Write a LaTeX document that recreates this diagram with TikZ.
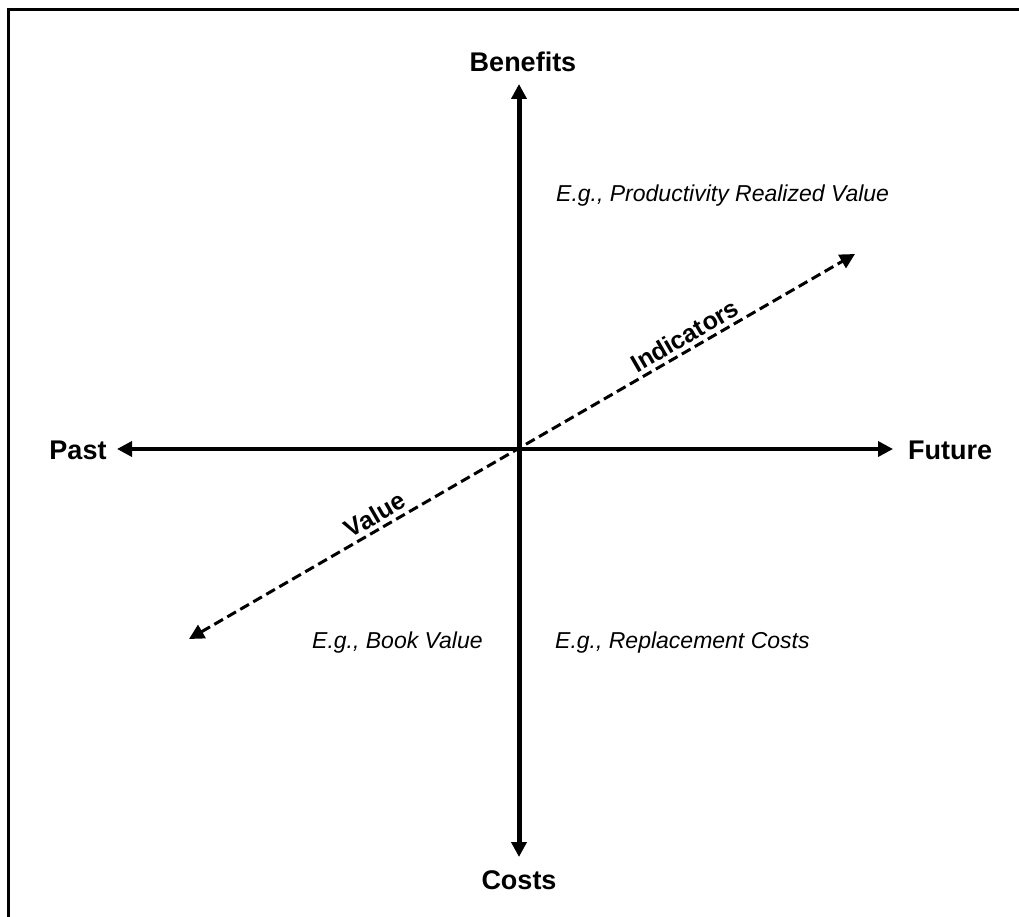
\documentclass[tikz,border=0pt]{standalone}
\usepackage{fontspec}
\setmainfont{Liberation Sans}
\usetikzlibrary{arrows.meta}
\tikzset{
  axislabel/.style={font=\fontsize{27}{30}\selectfont\bfseries, inner sep=0pt},
  linelabel/.style={font=\fontsize{25}{28}\selectfont\bfseries, inner sep=0pt, sloped, above=4pt},
  example/.style={font=\fontsize{23}{26}\selectfont\itshape, inner sep=0pt, anchor=west},
  axis/.style={line width=#1, {Triangle[length=15pt,width=15pt]}-{Triangle[length=15pt,width=15pt]}},
  dimarrow/.style={line width=3pt, dash pattern=on 10pt off 5pt, {Triangle[length=15pt,width=15pt]}-{Triangle[length=15pt,width=15pt]}},
  frameline/.style={line width=3pt},
}
\begin{document}
\begin{tikzpicture}[x=1pt,y=-1pt]
\useasboundingbox (0,0) rectangle (1019,917);
\fill[white] (0,0) rectangle (1019,917);
\coordinate (fbl) at (8,917);
\coordinate (ftl) at (8,9.5);
\coordinate (ftr) at (1019,9.5);
\draw[frameline] (fbl) -- (ftl) -- (ftr);

\coordinate (top) at (519,84);
\coordinate (bot) at (519,857);
\coordinate (left) at (117,449);
\coordinate (right) at (893,449);
\coordinate (dl) at (189,639);
\coordinate (dr) at (855,254);

\draw[axis=5pt] (bot) -- (top);
\draw[axis=3.5pt] (left) -- (right);
\draw[dimarrow] (dl) -- node[pos=0.29, linelabel] (val) {Value}
  node[pos=0.755, linelabel] (ind) {Indicators} (dr);

\node[axislabel] (benefits) at (523,62) {Benefits};
\node[axislabel] (costs) at (519,880) {Costs};
\node[axislabel] (past) at (78,450) {Past};
\node[axislabel] (future) at (950,450) {Future};

\node[example] (ex1) at (556,196) {E.g., Productivity Realized Value};
\node[example] (ex2) at (312,643) {E.g., Book Value};
\node[example] (ex3) at (555,643) {E.g., Replacement Costs};
\end{tikzpicture}
\end{document}
